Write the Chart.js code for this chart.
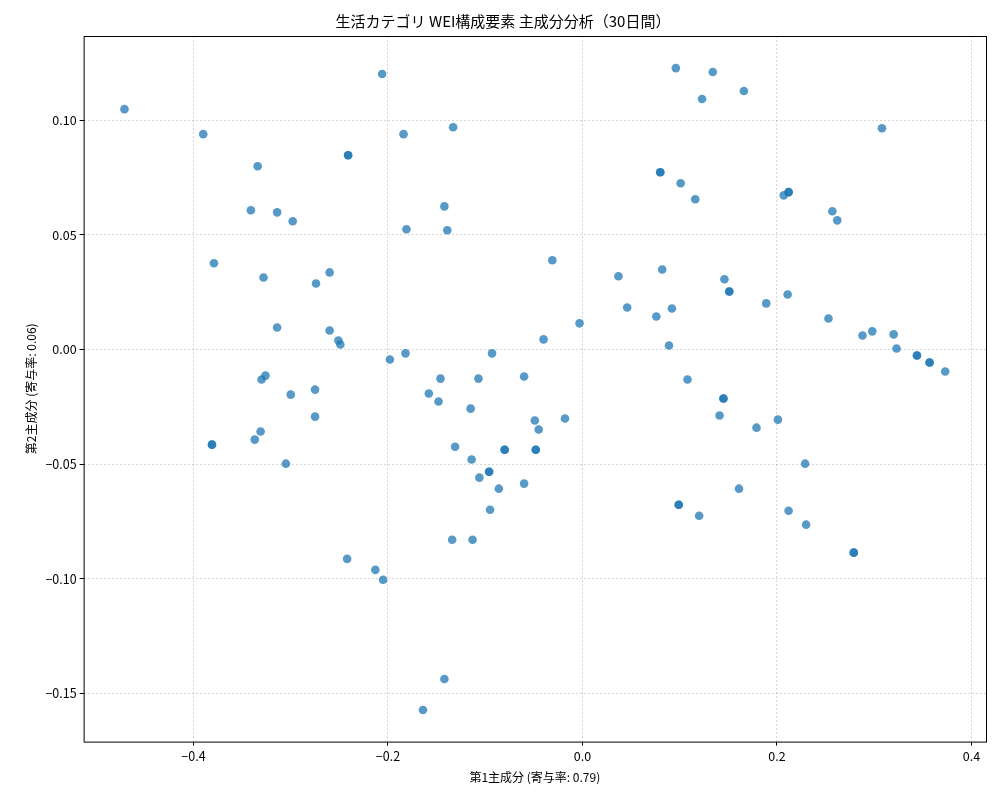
<!DOCTYPE html>
<html><head><meta charset="utf-8">
<script src="https://cdn.jsdelivr.net/npm/chart.js@4"></script>
<style>html,body{margin:0;background:#fff}#wrap{width:1000px;height:800px}</style>
</head><body><div id="wrap"><canvas id="c"></canvas></div>
<script>
// 第1主成分 / 第2主成分 scores
const pc1 = [
 -0.471,-0.390,-0.334,-0.341,-0.314,-0.298,-0.379,-0.328,-0.260,-0.274,-0.314,-0.260,-0.251,-0.249,
 -0.326,-0.330,-0.300,-0.275,-0.275,-0.331,-0.337,-0.305,-0.381,-0.381,
 -0.206,-0.184,-0.241,-0.241,-0.181,-0.142,-0.139,-0.133,-0.198,-0.182,-0.146,-0.158,-0.148,-0.115,
 -0.107,-0.093,-0.060,-0.031,-0.040,-0.003,-0.049,-0.045,-0.018,-0.048,-0.048,-0.131,-0.114,-0.096,
 -0.096,-0.080,-0.080,-0.106,-0.086,-0.060,-0.095,-0.134,-0.113,-0.242,-0.213,-0.205,-0.142,-0.164,
 0.096,0.134,0.123,0.166,0.080,0.080,0.101,0.116,0.207,0.212,0.212,0.257,0.262,0.308,
 0.037,0.082,0.046,0.076,0.092,0.089,0.146,0.151,0.151,0.189,0.211,0.253,0.288,0.298,0.320,0.323,
 0.344,0.344,0.357,0.357,0.373,0.108,0.145,0.145,0.141,0.179,0.201,0.229,0.161,0.212,0.230,
 0.099,0.099,0.120,0.279,0.279
];
const pc2 = [
 0.1048,0.0939,0.0799,0.0607,0.0598,0.0559,0.0376,0.0314,0.0336,0.0288,0.0096,0.0083,0.0039,0.0022,
 -0.0114,-0.0131,-0.0197,-0.0175,-0.0293,-0.0358,-0.0393,-0.0498,-0.0415,-0.0415,
 0.1201,0.0939,0.0847,0.0847,0.0524,0.0624,0.0520,0.0969,-0.0044,-0.0017,-0.0127,-0.0192,-0.0227,-0.0258,
 -0.0127,-0.0017,-0.0118,0.0389,0.0044,0.0114,-0.0310,-0.0349,-0.0301,-0.0437,-0.0437,-0.0424,-0.0480,-0.0533,
 -0.0533,-0.0437,-0.0437,-0.0559,-0.0607,-0.0585,-0.0699,-0.0830,-0.0830,-0.0913,-0.0961,-0.1004,-0.1437,-0.1572,
 0.1227,0.1210,0.1092,0.1127,0.0773,0.0773,0.0725,0.0655,0.0672,0.0686,0.0686,0.0603,0.0563,0.0965,
 0.0319,0.0349,0.0183,0.0144,0.0179,0.0017,0.0306,0.0253,0.0253,0.0201,0.0240,0.0135,0.0061,0.0079,0.0066,0.0004,
 -0.0026,-0.0026,-0.0057,-0.0057,-0.0096,-0.0131,-0.0214,-0.0214,-0.0288,-0.0341,-0.0306,-0.0498,-0.0607,-0.0703,-0.0764,
 -0.0677,-0.0677,-0.0725,-0.0886,-0.0886
];
const xTicks = [-0.4, -0.2, 0.0, 0.2, 0.4];
const yTicks = [-0.15, -0.10, -0.05, 0.00, 0.05, 0.10];

const FONT = "'Noto Sans CJK JP', 'DejaVu Sans', sans-serif";
Chart.defaults.font.family = FONT;
Chart.defaults.color = '#222';

const frame = {
  id: 'frame',
  afterDraw(chart) {
    const a = chart.chartArea, ctx = chart.ctx;
    ctx.save();
    ctx.strokeStyle = '#000';
    ctx.lineWidth = 1;
    ctx.strokeRect(a.left + 0.5, a.top + 0.5, a.right - a.left, a.bottom - a.top);
    ctx.restore();
  }
};

const fmtX = v => v.toFixed(1).replace('-', '−');
const fmtY = v => v.toFixed(2).replace('-', '−');

new Chart(document.getElementById('c'), {
  type: 'scatter',
  data: {
    datasets: [{
      data: pc1.map((x, i) => ({ x: x, y: pc2[i] })),
      backgroundColor: 'rgba(31,119,180,0.75)',
      borderWidth: 0,
      pointRadius: 4.3
    }]
  },
  options: {
    responsive: true,
    maintainAspectRatio: false,
    animation: false,
    layout: { padding: { left: 20, right: 14, top: 4, bottom: 11 } },
    plugins: {
      legend: { display: false },
      tooltip: { enabled: false },
      title: {
        display: true,
        text: '生活カテゴリ WEI構成要素 主成分分析（30日間）',
        font: { size: 15, weight: 'normal' },
        color: '#000',
        padding: { top: 8, bottom: 6 }
      }
    },
    scales: {
      x: {
        min: -0.513, max: 0.415,
        afterBuildTicks: s => { s.ticks = xTicks.map(v => ({ value: v })); },
        ticks: { callback: v => fmtX(v), font: { size: 12.5 }, color: '#000' },
        grid: { color: 'rgba(0,0,0,0.16)', drawTicks: true, tickLength: 4, tickColor: '#000' },
        border: { dash: [2, 2], display: false },
        title: { display: true, text: '第1主成分 (寄与率: 0.79)', font: { size: 12 }, color: '#000', padding: { top: 4 } }
      },
      y: {
        min: -0.171, max: 0.1367,
        afterBuildTicks: s => { s.ticks = yTicks.map(v => ({ value: v })); },
        ticks: { callback: v => fmtY(v), font: { size: 12.5 }, color: '#000' },
        grid: { color: 'rgba(0,0,0,0.16)', drawTicks: true, tickLength: 4, tickColor: '#000' },
        border: { dash: [2, 2], display: false },
        title: { display: true, text: '第2主成分 (寄与率: 0.06)', font: { size: 12 }, color: '#000', padding: { bottom: 4 } }
      }
    }
  },
  plugins: [frame]
});
</script>
</body></html>
